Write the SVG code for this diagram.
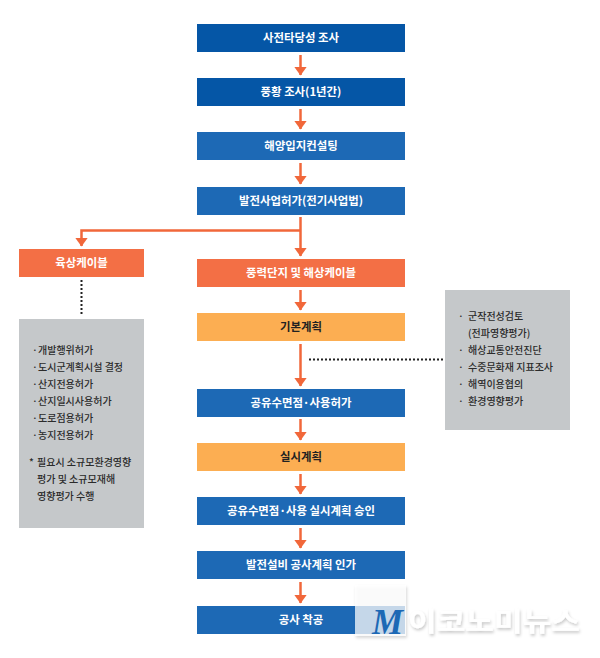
<svg xmlns="http://www.w3.org/2000/svg" width="600" height="658" viewBox="0 0 600 658">
<defs>
<marker id="ahv" markerUnits="userSpaceOnUse" markerWidth="9" markerHeight="13" refX="8.500" refY="6.500" orient="auto" viewBox="0 0 9 13"><path d="M0 0L9 6.500L0 13Z" fill="#f1673a"/></marker>
<filter id="sh" x="-10%" y="-30%" width="125%" height="170%"><feDropShadow dx="1" dy="2" stdDeviation="1.5" flood-color="#000" flood-opacity="0.22"/></filter>
</defs>
<style>
text{font-family:"Noto Sans CJK KR","Noto Sans",sans-serif}
.b1{fill:#0556a6}.b2{fill:#1d69b5}.o{fill:#f36f45}.y{fill:#fcae52}.g{fill:#c5c8ca}
.t{font-size:11.4px;font-weight:700;fill:#fff;text-anchor:middle}
.k{font-size:11.4px;font-weight:700;fill:#222;text-anchor:middle}
.s{font-size:10px;font-weight:500;fill:#2b2b2b}
.c{fill:none;stroke:#f1673a;stroke-width:2.5}
.d{fill:none;stroke:#222;stroke-width:2;stroke-dasharray:2 2}
</style>
<g id="connectors">
<path class="c" d="M300.500 55V75" marker-end="url(#ahv)"/>
<path class="c" d="M300.500 109V129" marker-end="url(#ahv)"/>
<path class="c" d="M300.500 163V184" marker-end="url(#ahv)"/>
<path class="c" d="M300.500 217V256" marker-end="url(#ahv)"/>
<path class="c" d="M300.500 230.500H81.500V246" marker-end="url(#ahv)"/>
<path class="c" d="M300.500 290V310" marker-end="url(#ahv)"/>
<path class="c" d="M300.500 344V386" marker-end="url(#ahv)"/>
<path class="c" d="M300.500 419V440" marker-end="url(#ahv)"/>
<path class="c" d="M300.500 474V494" marker-end="url(#ahv)"/>
<path class="c" d="M300.500 528V548" marker-end="url(#ahv)"/>
<path class="c" d="M300.500 582V603" marker-end="url(#ahv)"/>
<path class="d" d="M81.500 280V316"/>
<path class="d" d="M309 359.500H443"/>
</g>
<g id="n1"><rect class="b1" x="197" y="24" width="208" height="28"/><text class="t" x="301" y="42">사전타당성 조사</text></g>
<g id="n2"><rect class="b1" x="197" y="78" width="208" height="28"/><text class="t" x="301" y="96">풍황 조사(1년간)</text></g>
<g id="n3"><rect class="b2" x="197" y="132" width="208" height="28"/><text class="t" x="301" y="150">해양입지컨설팅</text></g>
<g id="n4"><rect class="b2" x="197" y="187" width="208" height="28"/><text class="t" x="301" y="205">발전사업허가(전기사업법)</text></g>
<g id="n5"><rect class="o" x="19" y="249" width="125" height="28"/><text class="t" x="81.500" y="267">육상케이블</text></g>
<g id="n6"><rect class="o" x="197" y="259" width="208" height="28"/><text class="t" x="301" y="277">풍력단지 및 해상케이블</text></g>
<g id="n7"><rect class="y" x="197" y="313" width="208" height="28"/><text class="k" x="301" y="331">기본계획</text></g>
<g id="n8"><rect class="b2" x="197" y="389" width="208" height="28"/><text class="t" x="301" y="407">공유수면점·사용허가</text></g>
<g id="n9"><rect class="y" x="197" y="443" width="208" height="28"/><text class="k" x="301" y="461">실시계획</text></g>
<g id="n10"><rect class="b2" x="197" y="497" width="208" height="28"/><text class="t" x="301" y="515">공유수면점·사용 실시계획 승인</text></g>
<g id="n11"><rect class="b2" x="197" y="551" width="208" height="28"/><text class="t" x="301" y="569">발전설비 공사계획 인가</text></g>
<g id="n12"><rect class="b2" x="197" y="606" width="208" height="28"/><text class="t" x="301" y="624">공사 착공</text></g>
<g id="left-note"><rect class="g" x="19" y="319" width="125" height="209"/>
<g class="s">
<text x="32" y="354">·</text><text x="38" y="354">개발행위허가</text>
<text x="32" y="371">·</text><text x="38" y="371">도시군계획시설 결정</text>
<text x="32" y="388">·</text><text x="38" y="388">산지전용허가</text>
<text x="32" y="405">·</text><text x="38" y="405">산지일시사용허가</text>
<text x="32" y="422">·</text><text x="38" y="422">도로점용허가</text>
<text x="32" y="439">·</text><text x="38" y="439">농지전용허가</text>
<text x="29" y="466">*</text><text x="37" y="466">필요시 소규모환경영향</text>
<text x="37" y="483">평가 및 소규모재해</text>
<text x="37" y="500">영향평가 수행</text>
</g></g>
<g id="right-note"><rect class="g" x="445" y="290" width="125" height="140"/>
<g class="s">
<text x="458" y="320">·</text><text x="468" y="320">군작전성검토</text>
<text x="468" y="337">(전파영향평가)</text>
<text x="458" y="354">·</text><text x="468" y="354">해상교통안전진단</text>
<text x="458" y="371">·</text><text x="468" y="371">수중문화재 지표조사</text>
<text x="458" y="388">·</text><text x="468" y="388">해역이용협의</text>
<text x="458" y="405">·</text><text x="468" y="405">환경영향평가</text>
</g></g>
<g id="watermark">
<rect x="355" y="585" width="51" height="51" fill="#fff" fill-opacity="0.72" filter="url(#sh)"/>
<text x="372" y="634" font-size="35" font-weight="700" font-style="italic" fill="#1d69b5" style="font-family:'Liberation Serif',serif">M</text>
<text x="408" y="631" font-size="26" font-weight="700" fill="#fff" filter="url(#sh)" textLength="172" lengthAdjust="spacingAndGlyphs">이코노미뉴스</text>
</g>
</svg>
